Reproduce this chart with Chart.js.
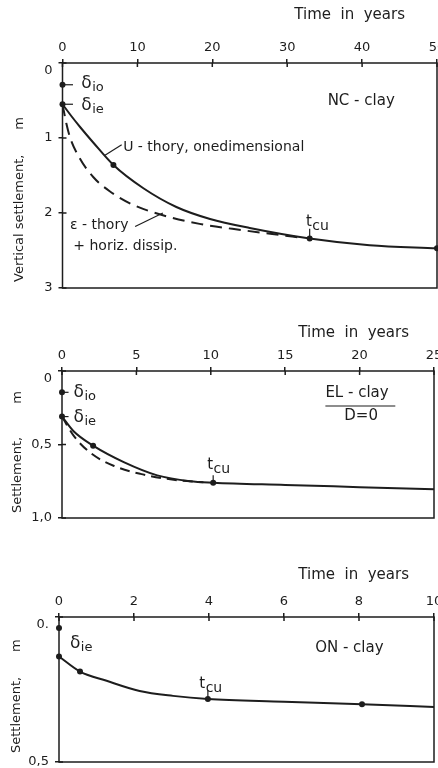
<!DOCTYPE html>
<html>
<head>
<meta charset="utf-8">
<script src="https://cdn.jsdelivr.net/npm/chart.js@4.4.1/dist/chart.umd.min.js"></script>
<style>
  html, body { margin: 0; padding: 0; background: #fff; }
  body { width: 438px; height: 768px; overflow: hidden; position: relative; }
  canvas { position: absolute; left: 0; }
</style>
</head>
<body>
<canvas id="nc" width="441" height="300" style="top:0"></canvas>
<canvas id="el" width="438" height="230" style="top:300px"></canvas>
<canvas id="on" width="438" height="238" style="top:530px"></canvas>
<script>
const FONT = '"DejaVu Sans", sans-serif'
const INK = '#1d1d1d'

// NC - clay (50 years)
const ncTimeTicks = [0, 10, 20, 30, 40, 50]
const ncDepthTicks = [0, 1, 2, 3]
const ncDepthLabels = ['0', '1', '2', '3']
const ncYears = [0, 1.2, 2.4, 4.1, 6.8, 10.8, 15.2, 19.7, 25, 33, 41, 50]
const ncUTheory = [0.55, 0.71, 0.86, 1.06, 1.36, 1.67, 1.92, 2.08, 2.2, 2.34, 2.43, 2.47]
const ncEpsYears = [0, 0.5, 1, 2.3, 4.1, 6.3, 9.4, 13.4, 18.3, 24.1, 28, 32]
const ncEpsTheory = [0.55, 0.8, 0.99, 1.27, 1.52, 1.71, 1.89, 2.03, 2.145, 2.23, 2.28, 2.33]
const ncMarkYears = [0, 0, 6.8, 33, 50]
const ncMarks = [0.29, 0.55, 1.36, 2.34, 2.47]

// EL - clay, D=0 (25 years)
const elTimeTicks = [0, 5, 10, 15, 20, 25]
const elDepthTicks = [0, 0.5, 1]
const elDepthLabels = ['0', '0,5', '1,0']
const elYears = [0, 0.78, 2.09, 4.15, 6.4, 8.6, 10.16, 15, 20, 25]
const elUTheory = [0.31, 0.41, 0.508, 0.62, 0.71, 0.75, 0.76, 0.775, 0.79, 0.805]
const elEpsYears = [0, 0.78, 1.9, 3.5, 5.27, 7.5, 9.5]
const elEpsTheory = [0.31, 0.44, 0.556, 0.646, 0.7, 0.74, 0.757]
const elMarkYears = [0, 0, 2.09, 10.16]
const elMarks = [0.145, 0.31, 0.508, 0.76]

// ON - clay (10 years)
const onTimeTicks = [0, 2, 4, 6, 8, 10]
const onDepthTicks = [0, 0.5]
const onDepthLabels = ['0.', '0,5']
const onYears = [0, 0.56, 1.27, 2.15, 3.04, 3.97, 6, 8.08, 10]
const onSettlement = [0.136, 0.188, 0.22, 0.255, 0.272, 0.283, 0.292, 0.301, 0.31]
const onMarkYears = [0, 0, 0.56, 3.97, 8.08]
const onMarks = [0.038, 0.136, 0.188, 0.283, 0.301]

const points = (xs, ys) => xs.map((x, i) => ({ x, y: ys[i] }))

const curve = (xs, ys, dash) => ({
  data: points(xs, ys),
  borderColor: INK,
  borderWidth: 2,
  borderDash: dash || [],
  pointRadius: 0,
  cubicInterpolationMode: 'monotone',
  fill: false,
  clip: false
})

const dots = (xs, ys) => ({
  data: points(xs, ys),
  showLine: false,
  pointRadius: 3,
  pointBackgroundColor: INK,
  pointBorderWidth: 0,
  clip: false
})

// frame, inner tick marks, axis titles, labels with subscripts and leader lines
const figureNotes = {
  id: 'figureNotes',
  beforeDatasetsDraw(chart) {
    const { ctx, chartArea: a, scales: { x, y } } = chart
    ctx.save()
    ctx.strokeStyle = INK
    ctx.lineWidth = 1.5
    ctx.strokeRect(a.left, a.top, a.width, a.height)
    ctx.beginPath()
    x.ticks.forEach(t => {
      const px = x.getPixelForValue(t.value)
      ctx.moveTo(px, a.top)
      ctx.lineTo(px, a.top + 4)
    })
    y.ticks.forEach(t => {
      const py = y.getPixelForValue(t.value)
      ctx.moveTo(a.left, py)
      ctx.lineTo(a.left + 4, py)
    })
    ctx.stroke()
    ctx.restore()
  },
  afterDatasetsDraw(chart, args, opts) {
    const { ctx, chartArea: a, scales: { x, y } } = chart
    ctx.save()
    ctx.fillStyle = INK
    ctx.strokeStyle = INK
    ctx.lineWidth = 1.2
    ctx.textBaseline = 'middle'
    for (const n of opts.items) {
      if (n.line) {
        const [x1, y1, x2, y2] = n.line
        ctx.beginPath()
        ctx.moveTo(x.getPixelForValue(x1), y.getPixelForValue(y1))
        ctx.lineTo(x.getPixelForValue(x2), y.getPixelForValue(y2))
        ctx.stroke()
        continue
      }
      const px = x.getPixelForValue(n.x)
      const py = y.getPixelForValue(n.y)
      ctx.font = `${n.size || 14}px ${FONT}`
      ctx.textAlign = n.align || 'left'
      ctx.fillText(n.text, px, py)
      if (n.sub) {
        const w = ctx.measureText(n.text).width
        ctx.font = `${n.subSize || 13}px ${FONT}`
        ctx.textAlign = 'left'
        ctx.fillText(n.sub, px + w + 0.5, py + 4)
      }
    }

    // time axis title, above the tick labels
    const t = opts.xTitle
    ctx.font = `15px ${FONT}`
    ctx.textAlign = 'right'
    ctx.fillText(t.text, t.right, t.y)

    // settlement axis title, reading upwards from near the bottom of the frame
    const s = opts.yTitle
    ctx.translate(s.x, a.bottom - s.lift)
    ctx.rotate(-Math.PI / 2)
    ctx.font = `13px ${FONT}`
    ctx.textAlign = 'left'
    ctx.fillText(s.text, 0, 0)
    ctx.restore()
  }
}

function drawPanel(id, cfg) {
  const tickFont = { family: FONT, size: 13 }
  const tickGrid = { drawOnChartArea: false, tickLength: 4, color: INK, lineWidth: 1.5 }
  return new Chart(document.getElementById(id), {
    type: 'line',
    data: { datasets: cfg.datasets },
    options: {
      responsive: false,
      animation: false,
      events: [],
      layout: { padding: cfg.pad },
      plugins: {
        legend: { display: false },
        tooltip: { enabled: false },
        figureNotes: { items: cfg.notes, xTitle: cfg.xTitle, yTitle: cfg.yTitle }
      },
      scales: {
        x: {
          type: 'linear',
          position: 'top',
          min: cfg.xTicks[0],
          max: cfg.xTicks[cfg.xTicks.length - 1],
          afterBuildTicks: s => { s.ticks = cfg.xTicks.map(v => ({ value: v })) },
          afterFit: s => { s.height = cfg.top; s.paddingLeft = 0; s.paddingRight = 0 },
          ticks: { autoSkip: false, maxRotation: 0, padding: 4, color: INK, font: tickFont },
          grid: tickGrid,
          border: { display: false }
        },
        y: {
          type: 'linear',
          reverse: true,
          min: cfg.yTicks[0],
          max: cfg.yTicks[cfg.yTicks.length - 1],
          afterBuildTicks: s => { s.ticks = cfg.yTicks.map(v => ({ value: v })) },
          afterFit: s => { s.width = cfg.left; s.paddingTop = 0; s.paddingBottom = 0 },
          // the zero label sits just under the top frame line
          ticks: {
            padding: 6, color: INK, font: tickFont,
            callback: (v, i) => (i === 0 ? ['', cfg.yLabels[i]] : cfg.yLabels[i])
          },
          grid: tickGrid,
          border: { display: false }
        }
      }
    },
    plugins: [figureNotes]
  })
}

drawPanel('nc', {
  datasets: [
    curve(ncYears, ncUTheory),
    curve(ncEpsYears, ncEpsTheory, [12, 7]),
    dots(ncMarkYears, ncMarks)
  ],
  xTicks: ncTimeTicks, yTicks: ncDepthTicks, yLabels: ncDepthLabels,
  left: 62.5, top: 63, pad: { left: 0, right: 4, top: 0, bottom: 12 },
  yTitle: { text: 'Vertical settlement,      m', x: 20, lift: 6 },
  xTitle: { text: 'Time  in  years', right: 405, y: 15 },
  notes: [
    { line: [0, 0.29, 1.4, 0.29] },
    { x: 2.5, y: 0.27, text: 'δ', sub: 'io', size: 17 },
    { line: [0, 0.55, 1.4, 0.55] },
    { x: 2.5, y: 0.57, text: 'δ', sub: 'ie', size: 17 },
    { x: 35.4, y: 0.51, text: 'NC - clay', size: 15 },
    { line: [7.9, 1.09, 5.67, 1.23] },
    { x: 8.1, y: 1.12, text: 'U - thory, onedimensional' },
    { x: 1.0, y: 2.16, text: 'ε - thory' },
    { line: [9.7, 2.18, 13.4, 2.0] },
    { x: 1.44, y: 2.45, text: '+ horiz. dissip.' },
    { line: [33, 2.34, 33, 2.21] },
    { x: 32.5, y: 2.12, text: 't', sub: 'cu', size: 15, subSize: 14 }
  ]
})

drawPanel('el', {
  datasets: [
    curve(elYears, elUTheory),
    curve(elEpsYears, elEpsTheory, [10, 6]),
    dots(elMarkYears, elMarks)
  ],
  xTicks: elTimeTicks, yTicks: elDepthTicks, yLabels: elDepthLabels,
  left: 62, top: 71, pad: { left: 0, right: 4, top: 0, bottom: 12 },
  yTitle: { text: 'Settlement,        m', x: 18, lift: 5 },
  xTitle: { text: 'Time  in  years', right: 409, y: 33 },
  notes: [
    { line: [0, 0.145, 0.44, 0.145] },
    { x: 0.78, y: 0.15, text: 'δ', sub: 'io', size: 17 },
    { line: [0, 0.31, 0.44, 0.31] },
    { x: 0.78, y: 0.32, text: 'δ', sub: 'ie', size: 17 },
    { x: 17.7, y: 0.152, text: 'EL - clay', size: 15 },
    { line: [17.7, 0.238, 22.4, 0.238] },
    { x: 20.1, y: 0.31, text: 'D=0', size: 15, align: 'center' },
    { line: [10.16, 0.76, 10.16, 0.71] },
    { x: 9.76, y: 0.64, text: 't', sub: 'cu', size: 15, subSize: 14 }
  ]
})

drawPanel('on', {
  datasets: [
    curve(onYears, onSettlement),
    dots(onMarkYears, onMarks)
  ],
  xTicks: onTimeTicks, yTicks: onDepthTicks, yLabels: onDepthLabels,
  left: 59, top: 87, pad: { left: 0, right: 4, top: 0, bottom: 6 },
  yTitle: { text: 'Settlement,      m', x: 17, lift: 9 },
  xTitle: { text: 'Time  in  years', right: 409, y: 45 },
  notes: [
    { x: 0.29, y: 0.093, text: 'δ', sub: 'ie', size: 17 },
    { x: 6.83, y: 0.107, text: 'ON - clay', size: 15 },
    { line: [3.97, 0.283, 3.97, 0.252] },
    { x: 3.74, y: 0.232, text: 't', sub: 'cu', size: 15, subSize: 14 }
  ]
})
</script>
</body>
</html>
